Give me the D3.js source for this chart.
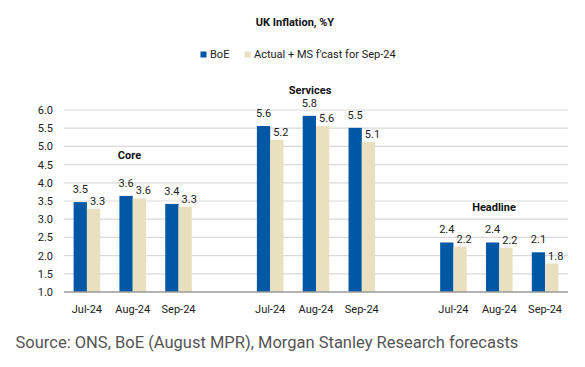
<!DOCTYPE html>
<html><head><meta charset="utf-8">
<script src="https://cdn.jsdelivr.net/npm/d3@7"></script>
<style>
body{margin:0;background:#fff;}
svg{display:block;font-family:Roboto,"Liberation Sans",sans-serif;}
</style></head>
<body><svg id="c" width="585" height="367"></svg>
<script>
const groups = ["Core","Services","Headline"];
const months = ["Jul-24","Aug-24","Sep-24"];
const seriesNames = ["BoE","Actual + MS f'cast for Sep-24"];
const boe    = [3.47,3.64,3.42, 5.56,5.84,5.51, 2.36,2.36,2.09];
const actual = [3.29,3.57,3.34, 5.18,5.56,5.12, 2.24,2.21,1.78];
const yTicks = [1.0,1.5,2.0,2.5,3.0,3.5,4.0,4.5,5.0,5.5,6.0];
const colors = ["#0057a4","#e8e0be"];

(function(){
const svg = d3.select("#c");
const mLeft = 64, mRight = 568, mTop = 110, mBottom = 292;

// 11 slots: 3 months, gap, 3 months, gap, 3 months
const slots = [];
groups.forEach((g,gi)=>{ months.forEach((m,mi)=>slots.push(g+"|"+m)); if(gi<groups.length-1) slots.push("gap"+gi); });
const x = d3.scaleBand().domain(slots).range([mLeft,mRight]).paddingInner(0).paddingOuter(0);
const y = d3.scaleLinear().domain([1,6]).range([mBottom,mTop]);
const barW = 13.3;

// gridlines
svg.append("g").selectAll("line").data(yTicks.slice(1)).join("line")
  .attr("x1",mLeft).attr("x2",mRight).attr("y1",d=>y(d)).attr("y2",d=>y(d))
  .attr("stroke","#d9d9d9").attr("stroke-width",1.2);

// y axis labels
svg.append("g").selectAll("text").data(yTicks).join("text")
  .attr("x",53).attr("y",d=>y(d)+4).attr("text-anchor","end")
  .attr("font-size",11).attr("fill","#222").text(d=>d.toFixed(1));

// bars
const data = [];
groups.forEach((g,gi)=>months.forEach((m,mi)=>{
  const i = gi*3+mi;
  data.push({key:g+"|"+m, m, s:0, v:boe[i]});
  data.push({key:g+"|"+m, m, s:1, v:actual[i]});
}));
const cx = d => x(d.key)+x.bandwidth()/2;
svg.append("g").selectAll("rect").data(data).join("rect")
  .attr("x",d=>cx(d)-barW+d.s*barW).attr("width",barW)
  .attr("y",d=>y(d.v)).attr("height",d=>y(1)-y(d.v))
  .attr("fill",d=>colors[d.s]);

// value labels
svg.append("g").selectAll("text").data(data).join("text")
  .attr("x",d=> d.s===0 ? cx(d)-barW/2 : cx(d)+barW/2+4)
  .attr("y",d=> d.s===0 ? y(d.v)-9 : y(d.v)-4)
  .attr("text-anchor","middle").attr("font-size",11).attr("fill","#222")
  .text(d=>d.v.toFixed(1));

// axis line
svg.append("line").attr("x1",mLeft).attr("x2",mRight).attr("y1",y(1)).attr("y2",y(1))
  .attr("stroke","#9a9a9a").attr("stroke-width",1.6);

// x labels
svg.append("g").selectAll("text").data(slots.filter(s=>s.indexOf("|")>0)).join("text")
  .attr("x",d=>x(d)+x.bandwidth()/2).attr("y",313).attr("text-anchor","middle")
  .attr("font-size",11).attr("fill","#222").text(d=>d.split("|")[1]);

// group labels
const groupLabelPos = {Core:[129.5,159], Services:[310,94], Headline:[494,211]};
groups.forEach(g=>{
  svg.append("text").attr("x",groupLabelPos[g][0]).attr("y",groupLabelPos[g][1])
    .attr("text-anchor","middle").attr("font-size",11).attr("font-weight","bold")
    .attr("fill","#111").text(g);
});

// title
svg.append("text").attr("x",295).attr("y",26).attr("text-anchor","middle")
  .attr("font-size",11).attr("font-weight","bold").attr("fill","#111").text("UK Inflation, %Y");

// legend
const lg = svg.append("g");
const legX = [200.5, 244.5];
seriesNames.forEach((n,i)=>{
  lg.append("rect").attr("x",legX[i]).attr("y",51.5).attr("width",6).attr("height",6).attr("fill",colors[i]);
  lg.append("text").attr("x",legX[i]+9.5).attr("y",58).attr("font-size",11).attr("fill","#222").text(n);
});

// source
svg.append("text").attr("x",15.5).attr("y",348).attr("font-size",16.5).attr("fill","#555")
  .text("Source: ONS, BoE (August MPR), Morgan Stanley Research forecasts");
})();
</script></body></html>
